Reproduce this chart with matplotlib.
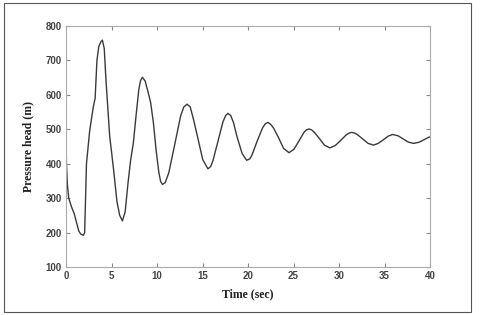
import matplotlib
matplotlib.use("Agg")
import matplotlib.pyplot as plt
from matplotlib.patches import Rectangle

time_s = [0, 0.05, 0.15, 0.3, 0.6, 0.9, 1.2, 1.4, 1.6, 1.9, 2.05, 2.15, 2.25, 2.6, 3.0,
          3.2, 3.4, 3.6, 3.85, 4.0, 4.2, 4.4, 4.6, 4.8, 5.2, 5.6, 5.9, 6.2,
          6.5, 6.8, 7.1, 7.4, 7.7, 8.0, 8.2, 8.4, 8.7, 9.0, 9.3, 9.6, 9.9, 10.2, 10.4,
          10.6, 10.9, 11.3, 11.95, 12.6, 12.95, 13.3, 13.65, 14.0, 14.45, 15.025, 15.6,
          15.9, 16.15, 16.7, 17.25, 17.55, 17.8, 18.1, 18.4, 18.8, 19.35, 19.85, 20.2,
          20.45, 21.0, 21.6, 21.9, 22.2, 22.5, 22.8, 23.35, 23.9, 24.5, 25.05, 25.6,
          26.15, 26.4, 26.7, 27.0, 27.3, 27.85, 28.4, 29.0, 29.6, 30.2, 30.8, 31.1,
          31.4, 31.7, 32.0, 32.6, 33.2, 33.8, 34.3, 34.85, 35.4, 35.9, 36.5, 37.05,
          37.6, 38.2, 38.75, 39.3, 39.8, 40.0]
head_m = [480, 400, 340, 300, 275, 255, 225, 205, 196, 192, 200, 300, 400, 495, 565,
          590, 700, 740, 755, 759, 735, 640, 560, 480, 390, 290, 250, 234,
          260, 340, 410, 460, 540, 615, 642, 651, 640, 610, 578, 520, 440, 375, 348,
          340, 345, 374, 456, 539, 565, 573, 565, 530, 479, 412, 385,
          392, 409, 465, 522, 540, 546, 540, 520, 478, 430, 410, 414,
          426, 465, 504, 516, 520, 514, 504, 476, 445, 432, 442, 466,
          491, 498, 501, 498, 491, 473, 454, 446, 453, 468, 484, 489,
          491, 489, 485, 472, 459, 454, 459, 469, 480, 485, 481, 472,
          463, 459, 462, 469, 476, 478]

x_ticks = [0, 5, 10, 15, 20, 25, 30, 35, 40]
y_ticks = [100, 200, 300, 400, 500, 600, 700, 800]

fig = plt.figure(figsize=(4.8, 3.15), dpi=100)
fig.patch.set_facecolor("white")
ax = fig.add_axes([66/480, 1-267/315, (430-66)/480, (267-26)/315])

ax.plot(time_s, head_m, color="#3a3a3a", lw=1.0)
ax.set_xlim(0, 40)
ax.set_ylim(100, 800)
ax.set_xticks(x_ticks)
ax.set_yticks(y_ticks)

for s in ax.spines.values():
    s.set_color("#aaaaaa")
    s.set_linewidth(0.8)
ax.tick_params(direction="in", top=True, right=True, length=3, width=0.8,
               color="#888888", labelsize=7, labelcolor="#444444", pad=3)
for lab in ax.get_xticklabels() + ax.get_yticklabels():
    lab.set_fontfamily("Liberation Sans")
    lab.set_fontweight("bold")

ax.set_xlabel("Time (sec)", fontfamily="Liberation Serif", fontweight="bold",
              fontsize=8.5, color="#222222", labelpad=5)
ax.set_ylabel("Pressure head (m)", fontfamily="Liberation Serif", fontweight="bold",
              fontsize=8.5, color="#222222", labelpad=8)

fig.patches.append(Rectangle((4/480, 1-312/315), (471-4)/480, (312-3)/315,
                             transform=fig.transFigure, fill=False,
                             edgecolor="#555555", lw=0.8))

fig.savefig("out.png", dpi=100)
